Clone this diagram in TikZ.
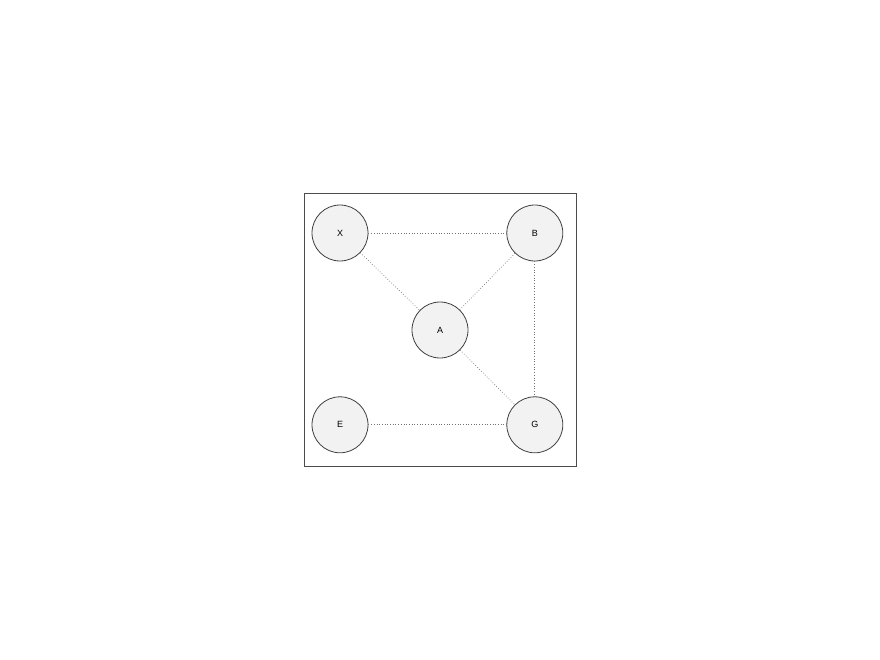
\documentclass[tikz,border=0pt]{standalone}
\usepackage{fontspec}
\setmainfont{Liberation Sans}
\usetikzlibrary{positioning}

\begin{document}
\begin{tikzpicture}[x=1pt, y=-1pt, node distance=2cm,
    site/.style={draw=black!75, fill=black!5, circle, minimum size=56pt, inner sep=0pt, line width=0.8pt, font=\fontsize{9}{10}\selectfont},
    link/.style={dotted, draw=black!55, line width=0.7pt}]
    \useasboundingbox (0,0) rectangle (880,660);
    \draw[black!70, line width=0.8pt] (304,193) rectangle (576,466);

    \node (X) [site] at (340,233) {X};
    \node (B) [site, right=138pt of X] {B};
    \node (E) [site, below=135pt of X] {E};
    \node (G) [site, right=138pt of E] {G};
    \node (A) [site] at (440,330) {A};

    \draw[link] (X) -- (B);
    \draw[link] (X) -- (A);
    \draw[link] (B) -- (A);
    \draw[link] (B) -- (G);
    \draw[link] (A) -- (G);
    \draw[link] (E) -- (G);
\end{tikzpicture}
\end{document}
